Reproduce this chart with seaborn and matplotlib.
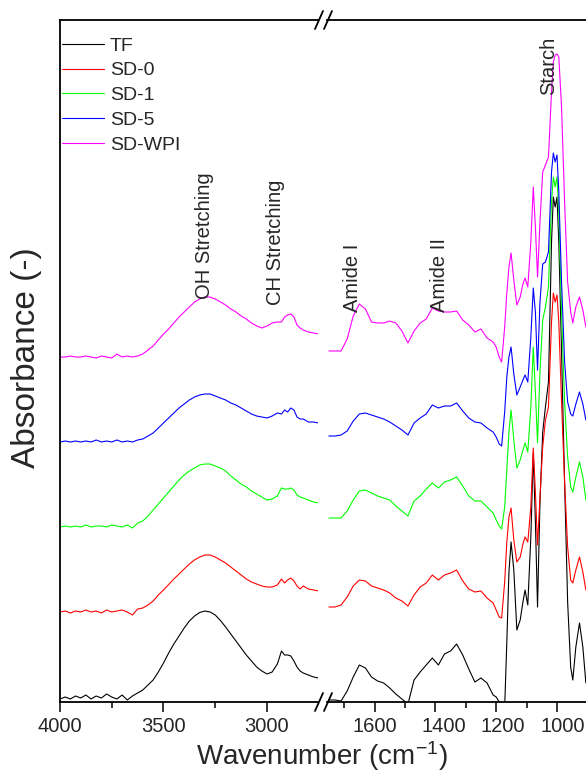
import pandas as pd
import matplotlib.pyplot as plt
import seaborn as sns
from matplotlib.transforms import ScaledTranslation

# Espectros FTIR (ya desplazados verticalmente)
samples = ['TF', 'SD-0', 'SD-1', 'SD-5', 'SD-WPI']
colors = {'TF': '#000000', 'SD-0': '#ff0000', 'SD-1': '#00ff00',
          'SD-5': '#0000ff', 'SD-WPI': '#ff00ff'}

wn_left = [4000, 3975, 3950, 3925, 3900, 3875, 3850, 3825, 3800, 3775, 3750, 3725, 3700, 3675,
           3650, 3625, 3600, 3575, 3550,
           3525, 3500, 3475, 3450, 3425, 3400, 3375, 3350, 3325, 3300, 3275, 3250, 3225, 3200,
           3175, 3150, 3125, 3100, 3075, 3050, 3025,
           3000, 2975, 2950, 2930, 2915, 2900, 2885, 2870, 2855, 2840, 2825, 2800, 2775, 2750]

wn_right = [1750, 1730, 1710, 1690, 1670, 1650, 1630, 1610, 1590, 1570, 1550, 1530, 1510, 1490,
            1470, 1450, 1430, 1410, 1390, 1370, 1350, 1330, 1310, 1290, 1270, 1250, 1230, 1210,
            1200, 1190, 1182, 1172, 1165, 1158, 1151, 1142, 1132, 1121, 1112, 1105, 1096, 1086,
            1078, 1071, 1064, 1056, 1047, 1038, 1028, 1018, 1012, 1006, 1000, 994, 985, 975,
            965, 955, 948, 938, 926, 915, 905]

tf_left = [0.03, 0.05, 0.03, 0.06, 0.04, 0.07, 0.03, 0.06, 0.04, 0.08, 0.05, 0.03, 0.07, 0.02,
           0.06, 0.09, 0.12, 0.17, 0.22,
           0.30, 0.39, 0.49, 0.58, 0.66, 0.74, 0.81, 0.86, 0.895, 0.91, 0.90, 0.87, 0.815, 0.75,
           0.68, 0.61, 0.54, 0.47, 0.41, 0.35, 0.31,
           0.28, 0.30, 0.38, 0.51, 0.47, 0.47, 0.46, 0.41, 0.35, 0.31, 0.29, 0.27, 0.25, 0.24]
sd0_left = [0.90, 0.91, 0.89, 0.91, 0.90, 0.92, 0.90, 0.91, 0.89, 0.92, 0.90, 0.91, 0.92, 0.90,
            0.87, 0.93, 0.94, 0.97, 1.01,
            1.07, 1.12, 1.175, 1.23, 1.28, 1.33, 1.38, 1.42, 1.45, 1.47, 1.47, 1.45, 1.42, 1.39,
            1.35, 1.31, 1.27, 1.23, 1.20, 1.18, 1.16,
            1.15, 1.15, 1.17, 1.23, 1.19, 1.22, 1.24, 1.21, 1.16, 1.13, 1.16, 1.13, 1.12, 1.11]
sd1_left = [1.75, 1.76, 1.75, 1.76, 1.75, 1.77, 1.75, 1.76, 1.76, 1.75, 1.77, 1.76, 1.75, 1.77,
            1.74, 1.79, 1.81, 1.86, 1.92,
            1.98, 2.04, 2.10, 2.16, 2.22, 2.27, 2.31, 2.34, 2.37, 2.38, 2.38, 2.36, 2.34, 2.31,
            2.26, 2.22, 2.18, 2.15, 2.11, 2.08, 2.05,
            2.02, 2.03, 2.06, 2.14, 2.13, 2.13, 2.14, 2.12, 2.07, 2.05, 2.04, 2.02, 2.00, 1.99]
sd5_left = [2.60, 2.61, 2.60, 2.61, 2.60, 2.61, 2.60, 2.62, 2.60, 2.61, 2.60, 2.62, 2.60, 2.61,
            2.60, 2.62, 2.63, 2.66, 2.69,
            2.74, 2.79, 2.84, 2.89, 2.94, 2.98, 3.02, 3.05, 3.07, 3.08, 3.08, 3.06, 3.04, 3.02,
            2.99, 2.97, 2.94, 2.91, 2.88, 2.86, 2.85,
            2.84, 2.86, 2.89, 2.88, 2.92, 2.90, 2.94, 2.92, 2.85, 2.83, 2.83, 2.80, 2.80, 2.79]
wpi_left = [3.45, 3.45, 3.46, 3.45, 3.45, 3.46, 3.45, 3.44, 3.46, 3.45, 3.44, 3.48, 3.45, 3.46,
            3.45, 3.46, 3.48, 3.52, 3.56,
            3.62, 3.68, 3.73, 3.79, 3.85, 3.90, 3.95, 4.00, 4.03, 4.05, 4.05, 4.03, 4.00, 3.97,
            3.93, 3.90, 3.86, 3.83, 3.79, 3.76, 3.74,
            3.76, 3.79, 3.80, 3.80, 3.85, 3.87, 3.88, 3.85, 3.77, 3.74, 3.72, 3.70, 3.69, 3.68]

tf_right = [0.02, 0.02, 0.01, 0.11, 0.25, 0.37, 0.34, 0.25, 0.21, 0.19, 0.14, 0.08, 0.03, -0.02,
            0.22, 0.30, 0.37, 0.44, 0.37, 0.48, 0.51, 0.58, 0.47, 0.33, 0.20, 0.24, 0.19, 0.07,
            0.05, 0.00, -0.05, -0.05, 0.60, 1.30, 1.60, 1.32, 0.72, 0.82, 1.00, 1.12, 0.97, 1.65,
            2.49, 1.80, 0.95, 1.99, 2.70, 2.95, 3.20, 4.60, 5.05, 4.95, 5.05, 4.60, 3.50, 2.20,
            1.00, 0.35, 0.22, 0.55, 0.79, 0.55, 0.19]
sd0_right = [0.95, 0.95, 0.97, 1.05, 1.16, 1.22, 1.21, 1.16, 1.14, 1.12, 1.09, 1.04, 1.01, 0.96,
             1.07, 1.15, 1.19, 1.27, 1.22, 1.27, 1.29, 1.32, 1.21, 1.13, 1.10, 1.11, 1.04, 0.99,
             0.92, 0.85, 0.84, 1.20, 1.60, 1.85, 1.94, 1.62, 1.40, 1.45, 1.58, 1.65, 1.60, 1.95,
             2.54, 2.10, 1.57, 2.05, 2.55, 2.82, 2.95, 3.80, 4.09, 4.00, 4.07, 3.80, 3.00, 2.20,
             1.55, 1.22, 1.19, 1.32, 1.45, 1.30, 1.12]
sd1_right = [1.84, 1.84, 1.84, 1.91, 2.02, 2.11, 2.12, 2.09, 2.06, 2.04, 2.02, 1.96, 1.91, 1.86,
             2.01, 2.06, 2.13, 2.19, 2.14, 2.20, 2.22, 2.25, 2.16, 2.06, 2.01, 2.01, 1.95, 1.89,
             1.82, 1.76, 1.73, 1.95, 2.32, 2.70, 2.92, 2.62, 2.34, 2.42, 2.52, 2.59, 2.50, 2.95,
             3.55, 3.10, 2.59, 3.30, 3.82, 3.95, 4.15, 5.00, 5.25, 5.15, 5.25, 4.90, 3.90, 3.00,
             2.45, 2.15, 2.10, 2.25, 2.40, 2.25, 2.02]
sd5_right = [2.66, 2.66, 2.67, 2.71, 2.81, 2.88, 2.89, 2.87, 2.85, 2.83, 2.80, 2.76, 2.72, 2.67,
             2.79, 2.84, 2.88, 2.97, 2.94, 2.96, 2.96, 2.99, 2.91, 2.84, 2.80, 2.79, 2.74, 2.70,
             2.65, 2.58, 2.56, 2.90, 3.25, 3.45, 3.55, 3.28, 3.07, 3.15, 3.22, 3.27, 3.20, 3.65,
             4.14, 3.90, 3.32, 4.00, 4.38, 4.40, 4.50, 5.30, 5.49, 5.40, 5.47, 5.10, 4.20, 3.40,
             3.00, 2.88, 2.86, 2.98, 3.10, 2.98, 2.82]
wpi_right = [3.51, 3.51, 3.51, 3.63, 3.86, 3.98, 3.93, 3.80, 3.79, 3.79, 3.81, 3.79, 3.71, 3.59,
             3.71, 3.79, 3.83, 3.94, 3.91, 3.90, 3.90, 3.91, 3.82, 3.77, 3.70, 3.73, 3.64, 3.60,
             3.55, 3.45, 3.40, 3.75, 4.09, 4.35, 4.49, 4.22, 3.97, 4.05, 4.18, 4.24, 4.15, 4.60,
             5.15, 4.75, 4.25, 4.80, 5.30, 5.37, 5.45, 6.10, 6.40, 6.47, 6.48, 6.45, 5.95, 5.00,
             4.20, 3.90, 3.79, 3.95, 4.05, 3.92, 3.75]

left_vals = [tf_left, sd0_left, sd1_left, sd5_left, wpi_left]
right_vals = [tf_right, sd0_right, sd1_right, sd5_right, wpi_right]

def long_df(wn, vals):
    parts = [pd.DataFrame({'wn': wn, 'abs': v, 'sample': s}) for s, v in zip(samples, vals)]
    return pd.concat(parts, ignore_index=True)

df_left = long_df(wn_left, left_vals)
df_right = long_df(wn_right, right_vals)

sns.set_style('white')
plt.rcParams['font.family'] = ['Liberation Sans', 'DejaVu Sans']
plt.rcParams['mathtext.default'] = 'regular'

W, H = 586, 777
fig = plt.figure(figsize=(W / 100, H / 100), dpi=100)
axL = fig.add_axes([60 / W, 75 / H, 258 / W, 682 / H])
axR = fig.add_axes([327 / W, 75 / H, 259 / W, 682 / H])

for ax, d in [(axL, df_left), (axR, df_right)]:
    sns.lineplot(data=d, x='wn', y='abs', hue='sample', hue_order=samples, palette=colors,
                 lw=0.8, ax=ax, legend=(ax is axL), estimator=None)
    ax.set_ylim(0, 6.82)
    ax.set_yticks([])
    ax.set_xlabel('')
    ax.set_ylabel('')
    for sp in ax.spines.values():
        sp.set_linewidth(1.3)
        sp.set_color('black')
    ax.tick_params(axis='x', which='major', direction='out', length=7, width=1.3,
                   labelsize=14.5, pad=4, bottom=True)
    ax.tick_params(axis='x', which='minor', direction='out', length=4, width=1.3, bottom=True)

axL.set_xlim(4000, 2753.6)
axL.set_xticks([4000, 3500, 3000])
axL.set_xticks([3750, 3250], minor=True)
axL.spines['right'].set_visible(False)

axR.set_xlim(1756.3, 904.6)
axR.set_xticks([1600, 1400, 1200, 1000])
axR.set_xticks([1700, 1500, 1300, 1100], minor=True)
axR.spines['left'].set_visible(False)
axR.spines['right'].set_visible(False)

# en el original las etiquetas del tramo derecho quedan algo a la derecha de sus marcas
label_shift = {1600: 4, 1400: 5.5, 1200: 7, 1000: 8.5}
for tick in axR.xaxis.get_major_ticks():
    lbl = tick.label1
    dx = label_shift.get(int(round(tick.get_loc())), 0)
    lbl.set_transform(lbl.get_transform() + ScaledTranslation(dx / 100, 0, fig.dpi_scale_trans))

# Leyenda
handles, labels = axL.get_legend_handles_labels()
axL.legend(handles, labels, loc='upper left', bbox_to_anchor=(0.008, 0.975), frameon=False,
           fontsize=14, handlelength=2.15, handletextpad=0.3, labelspacing=0.37,
           borderpad=0, borderaxespad=0)

# Bandas
ann = dict(rotation=90, ha='center', va='bottom', fontsize=14.5)
axL.text(3300, 4.03, 'OH Stretching', **ann)
axL.text(2957, 3.97, 'CH Stretching', **ann)
axR.text(1671, 3.90, 'Amide I', **ann)
axR.text(1385, 3.90, 'Amide II', **ann)
axR.text(1029, 6.07, 'Starch', **ann)

# Marcas de corte del eje
for yc in [20, 702]:
    for x0 in [315, 324]:
        fig.add_artist(plt.Line2D([x0 / W, (x0 + 8) / W], [1 - (yc + 9) / H, 1 - (yc - 9) / H],
                                  color='black', lw=1.3, transform=fig.transFigure))

fig.text(322 / W, 1 - 756 / H, 'Wavenumber (cm$^{-1}$)', ha='center', va='center', fontsize=20)
fig.text(27 / W, 1 - 358 / H, 'Absorbance (-)', ha='center', va='center', rotation=90, fontsize=24)

fig.savefig('out.png', dpi=100)
